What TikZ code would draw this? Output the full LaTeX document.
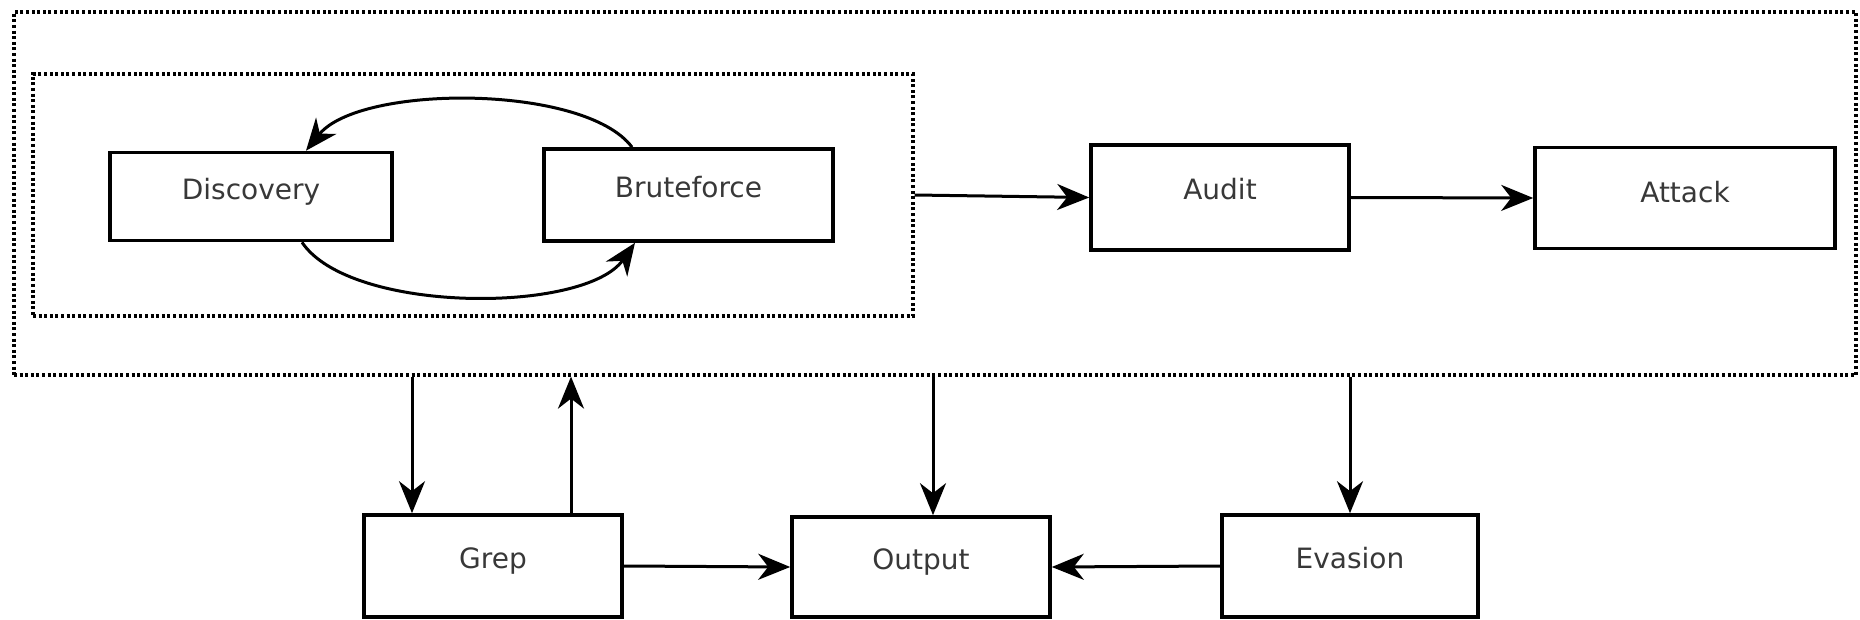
\documentclass[tikz,border=0pt]{standalone}
\usepackage{fontspec}
\setmainfont{DejaVu Sans}
\usetikzlibrary{arrows.meta,calc}
\begin{document}
\begin{tikzpicture}[x=1pt,y=-1pt,
  box/.style={draw=black,line width=3.6pt,rectangle,inner sep=0pt},
  lbl/.style={anchor=base,inner sep=0pt,text=black!78,font=\fontsize{28}{32}\selectfont},
  grp/.style={draw=black,line width=3.2pt,dash pattern=on 3pt off 2.6pt,rectangle,inner sep=0pt},
  arr/.style={line width=3pt,-{Stealth[length=32pt,width=26pt,inset=10pt]}}
]
\useasboundingbox (0,0) rectangle (1860,620);
% groups
\node[grp,minimum width=1842pt,minimum height=363pt] (outer) at (935,193.5) {};
\node[grp,minimum width=880pt,minimum height=242pt] (inner) at (473,195) {};
% boxes
\node[box,minimum width=282pt,minimum height=88pt] (disc) at (251,196.5) {};
\node[box,minimum width=289pt,minimum height=92pt] (brute) at (688.5,195) {};
\node[box,minimum width=258pt,minimum height=105pt] (audit) at (1220,197.5) {};
\node[box,minimum width=300pt,minimum height=101pt] (attack) at (1685,198) {};
\node[box,minimum width=258pt,minimum height=102pt] (grep) at (493,566) {};
\node[box,minimum width=258pt,minimum height=100pt] (output) at (921,567) {};
\node[box,minimum width=256pt,minimum height=102pt] (evasion) at (1350,566) {};
% labels
\node[lbl] (tdisc) at ($(disc.center)+(0,3.5)$) {Discovery};
\node[lbl] (tbrute) at ($(brute.center)+(0,2.5)$) {Bruteforce};
\node[lbl] (taudit) at ($(audit.center)+(0,2.5)$) {Audit};
\node[lbl] (tattack) at ($(attack.center)+(0,4.5)$) {Attack};
\node[lbl] (tgrep) at ($(grep.center)+(0,2.5)$) {Grep};
\node[lbl] (toutput) at ($(output.center)+(0,2)$) {Output};
\node[lbl] (tevasion) at ($(evasion.center)+(0,2.5)$) {Evasion};
% loop between discovery and bruteforce
\coordinate (btop) at (brute.north -| 632,0);
\coordinate (dtop) at (disc.north -| 306,0);
\coordinate (dbot) at (disc.south -| 302,0);
\coordinate (bbot) at (brute.south -| 635,0);
\draw[arr] (btop) .. controls (585,84) and (360,84) .. (dtop);
\draw[arr] (dbot) .. controls (350,314) and (585,314) .. (bbot);
% top row
\draw[arr] (inner.east) -- (audit.west);
\draw[arr] (audit.east) -- (attack.west);
% verticals
\coordinate (g1) at (grep.north -| 412,0);
\coordinate (g2) at (grep.north -| 571,0);
\coordinate (o1) at (output.north -| 933,0);
\draw[arr] (outer.south -| g1) -- (g1);
\draw[arr] (g2) -- (outer.south -| g2);
\draw[arr] (outer.south -| o1) -- (o1);
\draw[arr] (outer.south -| evasion.north) -- (evasion.north);
% bottom row
\draw[arr] (grep.east) -- (output.west);
\draw[arr] (evasion.west) -- (output.east);
\end{tikzpicture}
\end{document}
